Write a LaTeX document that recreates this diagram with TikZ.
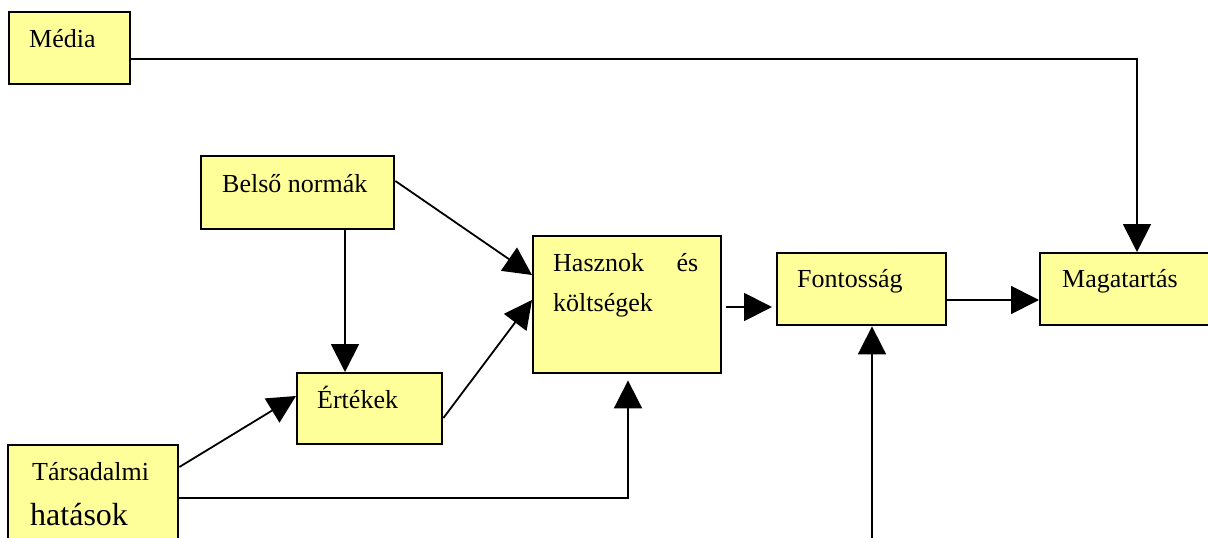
\documentclass[tikz,border=0pt]{standalone}
\usepackage{fontspec}
\setmainfont{Liberation Serif}
\usetikzlibrary{arrows.meta}
\definecolor{boxfill}{HTML}{FFFF99}
\begin{document}
\begin{tikzpicture}[x=1pt,y=-1pt,
  box/.style={draw=black, line width=2.4pt, fill=boxfill, rectangle, inner sep=0pt, anchor=north west},
  lbl/.style={anchor=base west, inner sep=0pt, font=\fontsize{26}{30}\selectfont},
  biglbl/.style={anchor=base west, inner sep=0pt, font=\fontsize{32}{36}\selectfont},
  link/.style={line width=1.8pt, -{Triangle[length=28pt,width=28pt]}}]
\useasboundingbox (0,0) rectangle (1208,538);
\clip (0,0) rectangle (1208,538);

% boxes
\node[box, minimum width=121pt, minimum height=72pt] (media) at (8,11) {};
\node[box, minimum width=193pt, minimum height=73pt] (belso) at (200,155) {};
\node[box, minimum width=145pt, minimum height=71pt] (ertek) at (296,372) {};
\node[box, minimum width=188pt, minimum height=137pt] (hasz) at (532,235) {};
\node[box, minimum width=169pt, minimum height=72pt] (font) at (776,252) {};
\node[box, minimum width=200pt, minimum height=72pt] (magat) at (1039,252) {};
\node[box, minimum width=170pt, minimum height=120pt] (tars) at (7,444) {};

% labels
\node[lbl] (tmedia) at (29,47) {Média};
\node[lbl] (tbelso) at (222,192) {Belső normák};
\node[lbl] (tertek) at (317,408) {Értékek};
\node[lbl, text width=145pt, align=justify, font=\fontsize{26}{40}\selectfont] (thasz) at (553,271) {Hasznok és költségek};
\node[lbl] (tfont) at (797,287) {Fontosság};
\node[lbl] (tmagat) at (1062,287) {Magatartás};
\node[lbl] (ttars) at (32,480) {Társadalmi};
\node[biglbl] (ttars2) at (30,525) {hatások};

% connectors
\coordinate (src) at (872,538);
\draw[link] (media.east |- 0,59) -| (magat.north -| 1137,0);
\draw[link] (belso.east |- 0,181) -- (hasz.west |- 0,275);
\draw[link] (belso.south -| 345,0) -- (ertek.north -| 345,0);
\draw[link] (ertek.east |- 0,418) -- (hasz.west |- 0,300);
\draw[link] (tars.east |- 0,467) -- (ertek.west |- 0,396);
\draw[link, shorten >=6pt] (tars.east |- 0,498) -| (hasz.south -| 628,0);
\draw[link, shorten <=4pt, shorten >=4pt] (hasz.east |- 0,307) -- (font.west |- 0,307);
\draw[link] (font.east |- 0,300) -- (magat.west |- 0,300);
\draw[link] (src) -- (font.south -| src);
\end{tikzpicture}
\end{document}
